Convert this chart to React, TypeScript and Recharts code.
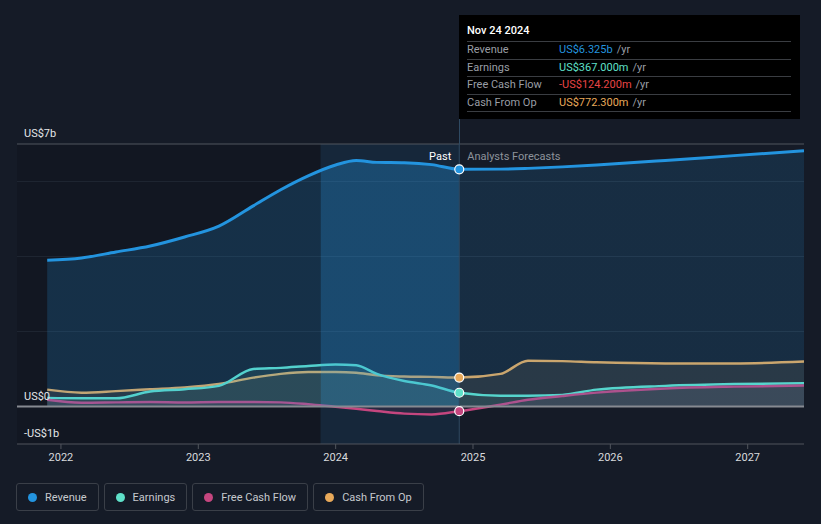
import React from "react";
import {
  ComposedChart,
  Area,
  XAxis,
  YAxis,
  CartesianGrid,
  ReferenceLine,
  ReferenceArea,
  ReferenceDot,
} from "recharts";

// time axis (fractional years) shared by every series
const years = [
  2021.9, 2022.15, 2022.4, 2022.65, 2022.9, 2023.15, 2023.4, 2023.6, 2023.8, 2024.0, 2024.15,
  2024.3, 2024.5, 2024.7, 2024.9, 2025.2, 2025.4, 2025.65, 2025.9, 2026.4, 2026.9, 2027.41,
];
// values in US$ billions
const revenue = [
  3.9, 3.96, 4.12, 4.28, 4.52, 4.81, 5.35, 5.78, 6.15, 6.44, 6.56,
  6.51, 6.5, 6.45, 6.325, 6.33, 6.35, 6.39, 6.44, 6.56, 6.69, 6.82,
];
const earnings = [
  0.23, 0.22, 0.22, 0.4, 0.46, 0.55, 1.0, 1.03, 1.08, 1.12, 1.1,
  0.87, 0.68, 0.56, 0.367, 0.29, 0.29, 0.31, 0.45, 0.55, 0.6, 0.62,
];
const freeCashFlow = [
  0.18, 0.1, 0.11, 0.12, 0.11, 0.12, 0.12, 0.11, 0.06, -0.01, -0.06,
  -0.12, -0.19, -0.21, -0.124, 0.05, 0.18, 0.28, 0.37, 0.48, 0.53, 0.56,
];
const cashFromOp = [
  0.45, 0.37, 0.41, 0.46, 0.51, 0.6, 0.77, 0.87, 0.92, 0.92, 0.9,
  0.83, 0.8, 0.79, 0.7723, 0.87, 1.22, 1.21, 1.18, 1.15, 1.15, 1.2,
];

const yearTicks = [2022, 2023, 2024, 2025, 2026, 2027];
const valueTicks = [-1, 0, 7];
const valueTickLabels = ["-US$1b", "US$0", "US$7b"];
const gridValues = [2, 4, 6];

const seriesNames = ["Revenue", "Earnings", "Free Cash Flow", "Cash From Op"];
const tooltipValues = ["US$6.325b", "US$367.000m", "-US$124.200m", "US$772.300m"];
const tooltipValueColors = ["#2394df", "#5fe0c9", "#e84545", "#e8a95a"];
const tooltipDate = "Nov 24 2024";

const COLORS = ["#2394df", "#5fe0c9", "#c5467f", "#e8a95a"];
const NOW = 2024.9;
const HIGHLIGHT_START = 2023.89;
const X_DOMAIN = [2021.68, 2027.41];

const rows = years.map((x, i) => ({
  x,
  revenue: revenue[i],
  earnings: earnings[i],
  fcf: freeCashFlow[i],
  cfo: cashFromOp[i],
}));
const nowIdx = years.indexOf(NOW);

const FONT = "Roboto, 'Noto Sans', sans-serif";

const YTick = (props: any) => {
  const { y, payload } = props;
  const i = valueTicks.indexOf(payload.value);
  return (
    <text x={24} y={y - 7} fill="#e4e6e9" fontSize={11} fontFamily={FONT}>
      {valueTickLabels[i]}
    </text>
  );
};

const PastLabel = (props: any) => {
  const { viewBox } = props;
  const x = viewBox.x;
  return (
    <g fontFamily={FONT} fontSize={11}>
      <text x={x - 8} y={160} fill="#ffffff" textAnchor="end">Past</text>
      <text x={x + 8} y={160} fill="#8d939b">Analysts Forecasts</text>
    </g>
  );
};

const span = years[years.length - 1] - years[0];
const f1 = (HIGHLIGHT_START - years[0]) / span;
const f2 = (NOW - years[0]) / span;

export default function App() {
  const keys = ["revenue", "earnings", "fcf", "cfo"];
  const nowValues = [revenue[nowIdx], earnings[nowIdx], freeCashFlow[nowIdx], cashFromOp[nowIdx]];

  return (
    <div style={{ position: "absolute", left: 0, top: 0, width: 821, height: 524, background: "#151b27", fontFamily: FONT, overflow: "hidden" }}>
      <ComposedChart width={821} height={524} data={rows} margin={{ top: 144, right: 17, bottom: 60, left: 17 }}>
        <defs>
          <linearGradient id="revFill" x1="0" y1="0" x2="1" y2="0">
            <stop offset={0} stopColor="#2394df" stopOpacity={0.2} />
            <stop offset={f1} stopColor="#2394df" stopOpacity={0.2} />
            <stop offset={f1} stopColor="#2394df" stopOpacity={0.32} />
            <stop offset={f2} stopColor="#2394df" stopOpacity={0.32} />
            <stop offset={f2} stopColor="#2394df" stopOpacity={0.15} />
            <stop offset={1} stopColor="#2394df" stopOpacity={0.15} />
          </linearGradient>
        </defs>
        <ReferenceArea x1={X_DOMAIN[0]} x2={HIGHLIGHT_START} y1={-1} y2={7} fill="#000000" fillOpacity={0.12} stroke="none" ifOverflow="hidden" />
        <ReferenceArea x1={HIGHLIGHT_START} x2={NOW} y1={-1} y2={7} fill="#2394df" fillOpacity={0.1} stroke="none" />
        <CartesianGrid vertical={false} horizontalValues={gridValues} stroke="#232b38" strokeWidth={1} />
        <XAxis
          type="number"
          dataKey="x"
          domain={X_DOMAIN}
          ticks={yearTicks}
          allowDataOverflow
          height={20}
          tickSize={5}
          tickMargin={4}
          stroke="#50555d"
          tick={{ fill: "#d8dadd", fontSize: 11, fontFamily: FONT }}
          tickFormatter={(v: number) => String(v)}
        />
        <YAxis type="number" domain={[-1, 7]} ticks={valueTicks} mirror axisLine={false} tickLine={false} tick={<YTick />} allowDataOverflow />
        <ReferenceLine y={7} stroke="#51565e" strokeWidth={1} />
        <Area type="monotone" dataKey="cfo" stroke={COLORS[3]} strokeWidth={2.5} fill={COLORS[3]} fillOpacity={0.1} isAnimationActive={false} dot={false} activeDot={false} />
        <Area type="monotone" dataKey="earnings" stroke={COLORS[1]} strokeWidth={2.5} fill={COLORS[1]} fillOpacity={0.1} isAnimationActive={false} dot={false} activeDot={false} />
        <Area type="monotone" dataKey="fcf" stroke={COLORS[2]} strokeWidth={2.5} fill={COLORS[2]} fillOpacity={0.1} isAnimationActive={false} dot={false} activeDot={false} />
        <Area type="monotone" dataKey="revenue" stroke={COLORS[0]} strokeWidth={3} fill="url(#revFill)" fillOpacity={1} isAnimationActive={false} dot={false} activeDot={false} />
        <ReferenceLine y={0} stroke="#868a91" strokeWidth={2} />
        <ReferenceLine x={NOW} stroke="#2f4a62" strokeWidth={1} label={<PastLabel />} />
        {keys.map((k, i) => (
          <ReferenceDot key={k} x={NOW} y={nowValues[i]} r={4.5} fill={COLORS[i]} stroke="#ffffff" strokeWidth={1.2} />
        ))}
      </ComposedChart>

      {/* connector between tooltip and plot */}
      <div style={{ position: "absolute", left: 459, top: 119, width: 1, height: 25, background: "#2f4a62" }} />

      {/* static tooltip */}
      <div style={{ position: "absolute", left: 459, top: 15, width: 341, height: 104, background: "#000000", boxSizing: "border-box", padding: "0 9px 0 8px", fontSize: 11 }}>
        <div style={{ height: 26, lineHeight: "32px", color: "#ffffff", fontWeight: 500, borderBottom: "1px solid #3a3d42" }}>{tooltipDate}</div>
        {seriesNames.map((name, i) => (
          <div key={name} style={{ height: 16.5, lineHeight: "16px", borderBottom: "1px solid #3a3d42", display: "flex" }}>
            <span style={{ width: 92, color: "#9a9ea5" }}>{name}</span>
            <span style={{ color: tooltipValueColors[i] }}>{tooltipValues[i]}</span>
            <span style={{ color: "#9a9ea5", marginLeft: 4 }}>/yr</span>
          </div>
        ))}
      </div>

      {/* legend */}
      <div style={{ position: "absolute", left: 16, top: 483, display: "flex", gap: 5 }}>
        {seriesNames.map((name, i) => (
          <div key={name} style={{ height: 28, boxSizing: "border-box", border: "1px solid #3a3f48", borderRadius: 3, display: "flex", alignItems: "center", padding: "0 11px 0 11px", color: "#c6c9ce", fontSize: 11 }}>
            <span style={{ width: 9, height: 9, borderRadius: "50%", background: COLORS[i], display: "inline-block", marginRight: 8 }} />
            {name}
          </div>
        ))}
      </div>
    </div>
  );
}
